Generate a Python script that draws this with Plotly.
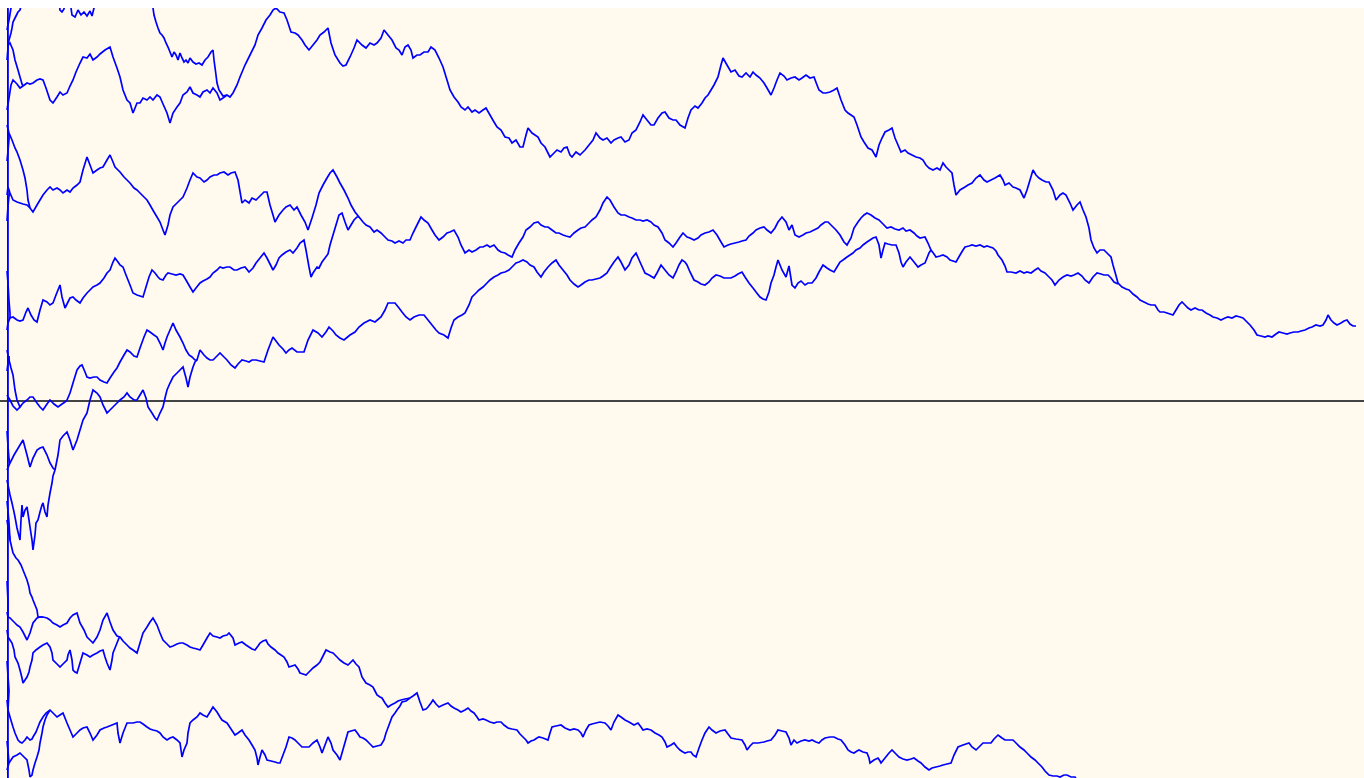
import plotly.graph_objects as go

# Coalescing Brownian paths started on the line t = 0.
# Each path is a list of (time step, level) pairs; branches end where they join another path.

upper_path = [
    (0, 291), (2, 303), (4, 316), (6, 321), (10, 317), (13, 313), (16, 315), (20, 318), (23, 317), (26, 318),
    (30, 321), (33, 322), (36, 321), (39, 313), (43, 301), (46, 298), (50, 304), (53, 309), (56, 306), (60, 308),
    (63, 315), (66, 321), (69, 329), (73, 338), (76, 344), (80, 343), (83, 347), (86, 341), (90, 344), (93, 347),
    (98, 351), (103, 354), (106, 344), (110, 333), (113, 324), (116, 311), (120, 301), (123, 298), (126, 288), (130, 298),
    (133, 298), (136, 303), (140, 301), (143, 304), (146, 301), (150, 306), (153, 304), (156, 297), (160, 288), (163, 278),
    (166, 288), (170, 294), (173, 298), (176, 306), (180, 309), (183, 314), (186, 308), (190, 306), (193, 304), (196, 309),
    (200, 311), (203, 308), (206, 313), (210, 308), (213, 301), (216, 303), (220, 306), (223, 304), (226, 308), (230, 316),
    (233, 324), (238, 336), (243, 346), (248, 356), (251, 366), (255, 373), (259, 381), (263, 386), (266, 391), (269, 393),
    (273, 389), (277, 388), (280, 381), (284, 369), (288, 368), (291, 366), (295, 361), (298, 356), (302, 351), (306, 356),
    (310, 361), (313, 366), (317, 369), (321, 373), (324, 358), (328, 346), (333, 338), (336, 335), (339, 336), (343, 344),
    (347, 353), (350, 361), (355, 356), (359, 353), (363, 358), (367, 356), (370, 358), (374, 363), (377, 371), (381, 366),
    (385, 361), (389, 353), (392, 351), (395, 346), (398, 354), (401, 356), (404, 351), (406, 343), (410, 346), (413, 346),
    (417, 349), (421, 349), (424, 354), (428, 351), (432, 343), (436, 334), (440, 321), (443, 311), (447, 304), (451, 299),
    (454, 294), (458, 291), (461, 294), (465, 289), (468, 291), (472, 288), (476, 291), (479, 293), (483, 286), (487, 279),
    (490, 274), (494, 271), (498, 264), (502, 263), (505, 258), (509, 261), (513, 254), (516, 254), (519, 266), (521, 273),
    (525, 268), (528, 266), (531, 264), (534, 258), (538, 254), (541, 248), (543, 244), (547, 248), (550, 251), (554, 249),
    (557, 253), (560, 254), (563, 246), (565, 244), (569, 249), (573, 246), (578, 251), (582, 256), (586, 261), (589, 268),
    (593, 263), (596, 261), (600, 263), (604, 258), (607, 261), (611, 263), (614, 264), (618, 259), (622, 261), (625, 268),
    (629, 271), (633, 279), (636, 286), (640, 281), (644, 276), (647, 276), (651, 283), (655, 288), (658, 289), (662, 283),
    (666, 281), (669, 281), (673, 276), (678, 273), (681, 283), (684, 291), (688, 295), (691, 293), (695, 298), (698, 303),
    (701, 306), (704, 311), (707, 316), (711, 324), (714, 336), (716, 343), (720, 336), (724, 329), (728, 331), (732, 325),
    (735, 324), (739, 328), (743, 324), (746, 329), (749, 326), (753, 323), (757, 318), (760, 313), (764, 306), (767, 313),
    (770, 321), (773, 328), (777, 325), (780, 321), (784, 323), (788, 324), (792, 321), (795, 323), (799, 326), (803, 323),
    (807, 324), (810, 316), (812, 311), (816, 308), (819, 308), (823, 309), (827, 311), (830, 313), (834, 301), (838, 291),
    (841, 288), (844, 286), (847, 284), (850, 276), (854, 264), (857, 259), (861, 253), (865, 251), (869, 244), (872, 256),
    (875, 263), (878, 269), (882, 271), (885, 273), (888, 263), (891, 256), (894, 249), (898, 251), (901, 248), (905, 246),
    (909, 244), (913, 243), (916, 241), (919, 236), (922, 233), (926, 231), (930, 233), (933, 231), (936, 238), (939, 234),
    (942, 231), (945, 228), (947, 216), (949, 206), (953, 211), (958, 214), (961, 216), (965, 218), (969, 223), (973, 226),
    (977, 221), (980, 219), (984, 221), (988, 223), (993, 226), (996, 221), (998, 216), (1002, 218), (1006, 214), (1009, 213),
    (1013, 211), (1017, 203), (1020, 211), (1023, 221), (1026, 231), (1029, 226), (1032, 223), (1035, 221), (1039, 219), (1042, 219),
    (1046, 211), (1049, 201), (1053, 206), (1056, 208), (1059, 206), (1063, 198), (1066, 191), (1070, 196), (1073, 199), (1076, 191),
    (1079, 184), (1082, 173), (1084, 161), (1087, 153), (1090, 148), (1093, 151), (1097, 151), (1100, 148), (1104, 144), (1106, 136),
    (1108, 129), (1111, 118), (1115, 114), (1119, 112), (1122, 111), (1126, 107), (1130, 104), (1133, 101), (1137, 99), (1141, 97),
    (1144, 96), (1148, 96), (1151, 91), (1153, 89), (1157, 89), (1160, 88), (1163, 87), (1166, 86), (1169, 91), (1172, 96),
    (1175, 99), (1178, 96), (1181, 93), (1184, 91), (1188, 93), (1192, 91), (1195, 91), (1199, 88), (1203, 86), (1206, 84),
    (1210, 83), (1214, 81), (1218, 83), (1221, 84), (1225, 83), (1229, 85), (1233, 84), (1236, 83), (1240, 79), (1243, 76),
    (1247, 71), (1250, 66), (1254, 65), (1258, 64), (1261, 65), (1265, 64), (1269, 67), (1272, 69), (1276, 68), (1280, 67),
    (1283, 68), (1287, 69), (1291, 69), (1294, 70), (1298, 71), (1302, 73), (1305, 74), (1309, 76), (1313, 75), (1316, 76),
    (1319, 81), (1321, 86), (1324, 81), (1327, 78), (1330, 76), (1334, 78), (1337, 80), (1340, 81), (1343, 77), (1346, 75),
    (1349, 75),
]

middle_path = [
    (0, 206), (1, 214), (3, 208), (6, 201), (10, 199), (13, 198), (16, 197), (20, 196), (23, 193), (26, 189),
    (30, 196), (33, 201), (36, 206), (40, 211), (43, 214), (46, 211), (50, 213), (53, 211), (56, 208), (60, 211),
    (63, 209), (66, 213), (70, 216), (73, 219), (76, 231), (80, 244), (83, 236), (86, 228), (90, 231), (93, 233),
    (96, 234), (100, 241), (103, 246), (106, 239), (108, 234), (113, 229), (117, 224), (120, 221), (123, 218), (127, 213),
    (130, 211), (133, 208), (137, 204), (140, 201), (143, 196), (147, 189), (150, 184), (153, 179), (156, 171), (158, 166),
    (161, 176), (163, 186), (166, 194), (170, 198), (173, 201), (176, 204), (180, 213), (183, 221), (186, 228), (190, 224),
    (193, 223), (197, 219), (200, 221), (203, 224), (207, 226), (210, 226), (213, 228), (217, 229), (221, 226), (224, 228),
    (228, 229), (231, 221), (235, 198), (238, 201), (242, 198), (245, 203), (249, 201), (253, 205), (257, 209), (260, 209),
    (263, 196), (266, 186), (268, 179), (272, 186), (276, 191), (279, 194), (283, 196), (287, 191), (290, 194), (294, 186),
    (298, 179), (301, 171), (305, 183), (309, 196), (312, 208), (316, 216), (320, 223), (323, 228), (326, 231), (330, 224),
    (333, 218), (337, 211), (341, 203), (344, 196), (348, 189), (352, 184), (356, 179), (359, 176), (363, 174), (367, 169),
    (370, 171), (374, 168), (378, 164), (381, 161), (385, 160), (388, 158), (392, 160), (396, 158), (399, 161), (403, 161),
    (406, 168), (410, 176), (414, 184), (417, 181), (421, 178), (425, 171), (428, 166), (432, 161), (436, 164), (440, 168),
    (443, 169), (447, 171), (451, 164), (454, 156), (458, 148), (462, 151), (465, 149), (469, 151), (473, 154), (476, 154),
    (480, 156), (483, 154), (487, 156), (491, 151), (494, 149), (498, 148), (501, 146), (505, 144), (508, 151), (512, 158),
    (516, 164), (519, 171), (523, 174), (527, 178), (531, 179), (534, 176), (538, 174), (541, 174), (545, 171), (549, 168),
    (552, 168), (556, 166), (559, 165), (563, 164), (567, 168), (571, 171), (574, 173), (578, 174), (582, 178), (585, 181),
    (589, 184), (593, 191), (596, 198), (600, 204), (603, 201), (607, 194), (611, 188), (614, 186), (618, 186), (622, 184),
    (625, 183), (629, 181), (633, 181), (636, 180), (640, 181), (644, 179), (647, 176), (651, 174), (655, 168), (658, 161),
    (662, 158), (666, 154), (669, 158), (673, 164), (676, 168), (680, 164), (683, 163), (687, 161), (691, 163), (694, 166),
    (698, 168), (702, 169), (706, 171), (710, 166), (714, 159), (717, 154), (721, 156), (724, 157), (728, 158), (732, 159),
    (735, 160), (739, 161), (742, 165), (746, 168), (749, 171), (753, 173), (757, 174), (760, 171), (764, 168), (768, 173),
    (771, 179), (775, 184), (779, 179), (782, 171), (785, 176), (788, 166), (792, 164), (796, 166), (799, 168), (803, 169),
    (807, 171), (811, 173), (814, 176), (818, 179), (821, 179), (825, 175), (829, 171), (833, 166), (837, 159), (840, 156),
    (844, 163), (847, 173), (851, 179), (854, 183), (857, 186), (860, 188), (864, 186), (868, 183), (872, 181), (876, 177),
    (880, 173), (884, 174), (888, 172), (892, 171), (896, 173), (899, 170), (903, 171), (907, 168), (910, 165), (913, 163),
    (918, 164), (921, 158), (924, 151), (927, 147), (929, 144), (933, 145), (936, 146), (940, 144), (943, 141), (946, 140),
    (949, 139), (953, 146), (956, 151), (958, 154), (962, 155), (965, 156), (969, 155), (973, 156), (977, 154), (980, 155),
    (983, 154), (986, 153), (989, 150), (991, 146), (995, 141), (998, 135), (1000, 129), (1004, 129), (1009, 128), (1013, 130),
    (1017, 128), (1020, 129), (1024, 128), (1028, 131), (1031, 133), (1034, 130), (1038, 128), (1041, 125), (1045, 121), (1048, 116),
    (1052, 121), (1056, 124), (1060, 126), (1064, 125), (1067, 126), (1071, 128), (1075, 125), (1078, 121), (1082, 118), (1086, 124),
    (1090, 128), (1094, 127), (1097, 126), (1101, 126), (1104, 123), (1107, 119), (1111, 117),
]

lower_middle_path = [
    (0, 51), (2, 41), (4, 33), (6, 26), (8, 11), (10, 1), (13, -6), (16, -2), (20, 1), (23, 4),
    (26, 4), (30, -2), (33, -6), (36, -9), (40, -3), (43, 1), (47, -3), (51, -6), (55, -3), (58, -1),
    (60, 1), (63, 8), (66, 18), (70, 31), (73, 35), (75, 36), (78, 29), (80, 24), (83, 23), (87, 24),
    (90, 24), (93, 21), (97, 19), (100, 18), (103, 23), (107, 29), (110, 33), (113, 39), (117, 46), (120, 51),
    (123, 49), (127, 45), (130, 44), (133, 53), (137, 64), (140, 71), (143, 69), (147, 66), (150, 64), (153, 58),
    (156, 51), (158, 58), (160, 64), (163, 71), (166, 78), (169, 71), (173, 64), (176, 58), (179, 51), (182, 46),
    (185, 44), (188, 41), (190, 41), (193, 51), (197, 46), (200, 43), (203, 41), (206, 41), (210, 45), (213, 48),
    (217, 44), (220, 41), (224, 36), (228, 33), (231, 37), (235, 41), (239, 40), (242, 39), (245, 41), (249, 41),
    (253, 40), (257, 39), (261, 51), (266, 64), (269, 60), (272, 56), (276, 52), (279, 48), (282, 51), (285, 53),
    (290, 49), (293, 49), (297, 49), (301, 61), (306, 71), (311, 68), (315, 64), (319, 69), (322, 74), (326, 70),
    (329, 66), (333, 63), (337, 61), (343, 66), (348, 69), (352, 74), (357, 78), (363, 81), (368, 79), (374, 84),
    (378, 91), (381, 98), (385, 98), (388, 98), (392, 93), (395, 89), (399, 84), (403, 81), (407, 84), (412, 86),
    (417, 86), (421, 81), (425, 76), (429, 71), (432, 68), (437, 66), (441, 63), (444, 73), (447, 81), (451, 84),
    (455, 86), (458, 88), (462, 96), (465, 104), (469, 108), (472, 111), (476, 114), (480, 118), (483, 121), (487, 124),
    (491, 126), (494, 128), (498, 129), (502, 131), (505, 134), (509, 138), (512, 139), (516, 141), (520, 139), (523, 136),
    (527, 134), (530, 129), (534, 124), (537, 129), (541, 134), (545, 138), (549, 141), (552, 136), (556, 131), (560, 126),
    (563, 121), (567, 117), (571, 114), (574, 116), (578, 119), (582, 121), (585, 121), (589, 122), (593, 123), (596, 125),
    (600, 128), (603, 133), (607, 139), (611, 144), (614, 139), (618, 131), (622, 136), (625, 143), (629, 148), (633, 139),
    (638, 128), (642, 126), (647, 123), (650, 128), (654, 136), (658, 131), (662, 126), (666, 123), (669, 129), (672, 136),
    (675, 141), (678, 139), (680, 136), (683, 129), (687, 121), (691, 119), (694, 117), (698, 116), (702, 119), (705, 123),
    (709, 126), (713, 125), (717, 123), (720, 123), (724, 123), (728, 125), (731, 127), (735, 129), (738, 124), (742, 118),
    (746, 113), (749, 109), (753, 104), (756, 102), (759, 101), (762, 109), (764, 118), (767, 126), (769, 134), (771, 141),
    (775, 131), (779, 124), (782, 135), (785, 116), (788, 113), (791, 118), (794, 120), (798, 116), (801, 118), (805, 118),
    (809, 123), (812, 129), (816, 136), (820, 133), (823, 131), (827, 129), (830, 134), (833, 139), (836, 141), (840, 144),
    (843, 146), (846, 148), (849, 151), (853, 153), (856, 156), (860, 159), (863, 161), (866, 163), (869, 164), (872, 156),
    (874, 143), (876, 151), (878, 158), (881, 157), (885, 156), (889, 156), (892, 148), (894, 139), (896, 134), (899, 139),
    (903, 144), (907, 139), (911, 134), (914, 136), (918, 138), (920, 143), (922, 148), (924, 151),
]

rising_branch = [
    (0, 71), (1, 78), (3, 83), (6, 84), (10, 81), (13, 80), (16, 81), (19, 89), (21, 93), (24, 86),
    (27, 81), (30, 79), (33, 91), (36, 101), (40, 99), (43, 96), (46, 98), (49, 106), (53, 116), (55, 104),
    (58, 93), (61, 99), (63, 103), (66, 104), (69, 101), (73, 98), (76, 103), (80, 108), (83, 111), (86, 114),
    (90, 116), (93, 118), (97, 123), (100, 128), (103, 131), (106, 139), (108, 143), (111, 139), (113, 136), (116, 134),
    (119, 126), (123, 116), (126, 108), (130, 106), (133, 105), (136, 104), (139, 114), (142, 124), (145, 131), (148, 128),
    (151, 124), (153, 122), (156, 121), (159, 126), (161, 128), (165, 127), (169, 126), (173, 127), (176, 126), (179, 121),
    (183, 114), (186, 109), (189, 113), (193, 118), (196, 120), (200, 122), (203, 124), (206, 128), (210, 131), (213, 134),
    (216, 133), (220, 134), (223, 134), (227, 131), (230, 131), (234, 133), (238, 134), (242, 129), (246, 133), (249, 138),
    (253, 143), (257, 148), (260, 143), (263, 137), (266, 131), (269, 136), (272, 143), (275, 146), (279, 149), (283, 151),
    (286, 148), (290, 153), (293, 158), (297, 161), (299, 151), (302, 134), (304, 124), (306, 128), (310, 134), (312, 133),
    (315, 139), (318, 143), (321, 147), (323, 156), (326, 166), (329, 176), (332, 186), (335, 188), (338, 179), (341, 171),
    (344, 176), (347, 181), (350, 184), (352, 184),
]

top_entry = [
    (145, 399), (146, 393), (147, 386), (149, 379), (151, 373), (153, 368), (155, 366), (157, 363), (159, 358), (161, 354),
    (163, 349), (165, 344), (167, 349), (169, 346), (171, 341), (173, 348), (175, 343), (177, 339), (179, 341), (181, 338),
    (183, 343), (186, 339), (189, 337), (192, 338), (195, 336), (198, 341), (201, 344), (204, 349), (206, 351), (207, 341),
    (209, 326), (210, 318), (212, 311), (214, 308), (216, 305), (220, 306),
]

top_exit_a = [(0, 341), (1, 353), (2, 361), (4, 368), (5, 373), (6, 379), (8, 383), (10, 387), (11, 389), (13, 391), (14, 395), (15, 399)]
top_exit_b = [(0, 371), (2, 381), (3, 387), (4, 393), (5, 399)]
top_dip_a = [(63, 399), (64, 393), (65, 386), (68, 384), (71, 391), (74, 386), (77, 389), (80, 385), (83, 390), (85, 385), (87, 393), (88, 399)]
top_dip_b = [(52, 399), (53, 391), (55, 389), (57, 392), (58, 399)]

upper_feeder = [(1, 356), (3, 358), (6, 351), (8, 341), (11, 331), (13, 324), (15, 317), (16, 315)]
middle_feeder = [(0, 276), (2, 268), (5, 261), (8, 253), (10, 249), (13, 241), (16, 231), (18, 223), (20, 211), (21, 201), (23, 193)]
zero_feeder = [(0, 6), (3, 1), (6, -5), (10, -9), (13, -6)]

dip_branch = [
    (0, -69), (3, -62), (7, -54), (10, -49), (13, -44), (16, -39), (20, -54), (23, -66), (26, -57), (30, -49),
    (33, -47), (36, -46), (40, -54), (43, -62), (46, -67), (48, -69), (51, -54), (53, -39), (56, -35), (60, -31),
    (63, -39), (66, -49), (70, -39), (73, -29), (76, -19), (80, -12), (83, 1), (86, 11), (90, 8), (93, 4),
    (96, -4), (100, -12), (103, -9), (106, -6), (110, -2), (113, 1), (117, 4), (120, 8), (123, 4), (127, 1),
    (130, 1), (133, 6), (136, 11), (139, 3), (141, -6), (145, -12), (148, -17), (150, -19), (153, -12), (156, -6),
    (158, 3), (160, 11), (163, 18), (166, 24), (170, 28), (173, 31), (176, 34), (179, 23), (181, 14), (183, 24),
    (186, 34), (188, 39), (190, 41),
]

jagged_branch = [
    (0, -79), (2, -89), (3, -94), (5, -102), (7, -111), (8, -116), (10, -127), (11, -131), (13, -139), (14, -119),
    (15, -104), (16, -116), (18, -109), (20, -106), (22, -119), (23, -126), (25, -139), (26, -149), (28, -134), (29, -122),
    (31, -119), (33, -111), (35, -104), (36, -102), (38, -111), (40, -116), (41, -104), (43, -92), (44, -87), (45, -82),
    (46, -75), (48, -69),
]

falling_branch = [
    (0, -119), (1, -126), (3, -139), (6, -152), (9, -157), (11, -159), (14, -164), (16, -169), (18, -174), (20, -179),
    (22, -186), (23, -192), (25, -196), (26, -199), (28, -204), (30, -209), (31, -216), (34, -216), (36, -216),
]

lower_path = [
    (0, -211), (1, -216), (3, -217), (5, -219), (8, -222), (10, -224), (13, -226), (16, -231), (20, -239), (23, -232),
    (26, -222), (30, -217), (33, -216), (36, -216), (40, -217), (43, -219), (46, -222), (50, -224), (53, -226), (56, -224),
    (60, -222), (63, -217), (66, -214), (70, -212), (73, -222), (77, -229), (80, -236), (83, -239), (86, -242), (90, -236),
    (93, -229), (96, -219), (100, -212), (103, -221), (106, -229), (110, -235), (113, -236), (116, -240), (120, -244), (123, -247),
    (126, -249), (130, -252), (133, -242), (136, -232), (140, -226), (143, -221), (146, -217), (150, -224), (153, -232), (156, -239),
    (160, -243), (163, -246), (166, -245), (170, -243), (173, -242), (176, -242), (180, -244), (183, -246), (186, -247), (190, -248),
    (193, -249), (196, -244), (200, -237), (203, -232), (206, -235), (210, -236), (213, -237), (216, -235), (220, -234), (222, -232),
    (226, -237), (228, -244), (232, -242), (235, -241), (239, -244), (242, -246), (245, -248), (248, -249), (251, -245), (253, -242),
    (256, -240), (259, -239), (261, -243), (264, -246), (268, -249), (271, -252), (274, -254), (277, -256), (280, -261), (282, -266),
    (285, -265), (288, -264), (291, -268), (293, -272), (296, -273), (299, -274), (303, -270), (306, -267), (310, -264), (313, -261),
    (316, -255), (319, -249), (323, -251), (326, -252), (330, -256), (333, -259), (337, -262), (341, -264), (344, -261), (346, -259),
    (349, -263), (352, -266), (355, -276), (357, -279), (359, -282), (363, -284), (366, -286), (368, -290), (370, -294), (373, -296),
    (375, -297), (378, -302), (381, -306), (384, -304), (388, -302), (391, -300), (394, -299), (398, -298), (403, -297), (406, -295),
    (410, -292), (413, -301), (416, -309), (419, -308), (421, -306), (424, -302), (426, -299), (429, -303), (432, -306), (436, -304),
    (441, -302), (444, -305), (447, -307), (451, -309), (454, -311), (458, -309), (461, -307), (464, -310), (467, -312), (470, -316),
    (472, -319), (476, -318), (479, -319), (483, -321), (487, -322), (490, -321), (494, -321), (497, -324), (501, -327), (505, -328),
    (510, -329), (513, -333), (516, -336), (519, -339), (521, -342), (524, -340), (527, -339), (530, -337), (532, -336), (536, -337),
    (541, -339), (543, -332), (545, -326), (549, -325), (554, -324), (558, -327), (563, -329), (567, -328), (571, -329), (574, -332),
    (576, -336), (579, -329), (582, -324), (585, -323), (589, -322), (593, -321), (598, -322), (601, -325), (604, -329), (607, -321),
    (611, -314), (614, -316), (618, -319), (622, -321), (627, -324), (631, -322), (634, -326), (636, -329), (640, -328), (644, -329),
    (648, -332), (652, -334), (655, -336), (658, -341), (660, -346), (664, -344), (667, -342), (670, -346), (673, -349), (676, -351),
    (678, -352), (681, -351), (684, -351), (686, -354), (689, -356), (692, -347), (695, -339), (698, -332), (702, -326), (705, -329),
    (709, -332), (713, -330), (718, -329), (721, -333), (724, -337), (729, -338), (735, -339), (738, -344), (740, -349), (743, -345),
    (746, -342), (751, -342), (757, -341), (760, -340), (764, -339), (768, -334), (771, -329), (775, -330), (779, -331), (782, -337),
    (784, -344), (787, -339), (790, -342), (794, -340), (798, -339), (802, -340), (805, -339), (809, -341), (812, -342), (815, -339),
    (818, -337), (823, -336), (827, -336), (831, -338), (834, -339), (838, -344), (841, -349), (844, -351), (847, -352), (850, -350),
    (852, -349), (856, -351), (860, -352), (862, -357), (863, -362), (867, -359), (871, -357), (873, -360), (874, -362), (878, -357),
    (882, -352), (885, -349), (889, -353), (892, -356), (896, -358), (900, -359), (904, -358), (907, -357), (911, -360), (914, -362),
    (918, -366), (922, -369), (925, -367), (929, -366), (933, -365), (936, -364), (940, -363), (944, -362), (947, -354), (951, -346),
    (956, -344), (962, -342), (965, -346), (969, -349), (973, -345), (976, -342), (980, -342), (984, -342), (987, -338), (991, -334),
    (995, -337), (998, -339), (1002, -339), (1006, -339), (1009, -342), (1013, -346), (1017, -349), (1020, -352), (1024, -356), (1028, -359),
    (1031, -362), (1035, -366), (1038, -370), (1042, -374), (1046, -375), (1050, -375), (1053, -376), (1057, -374), (1060, -374), (1064, -376),
    (1068, -376), (1071, -381), (1073, -389),
]

second_lower_branch = [
    (0, -229), (1, -236), (3, -239), (5, -242), (7, -249), (8, -256), (11, -262), (13, -269), (15, -277), (16, -282),
    (18, -279), (20, -276), (22, -271), (23, -266), (25, -259), (26, -252), (29, -249), (33, -246), (36, -244), (40, -242),
    (43, -246), (45, -252), (46, -259), (50, -263), (53, -266), (56, -263), (60, -259), (61, -254), (63, -249), (65, -259),
    (66, -269), (68, -271), (70, -272), (73, -262), (76, -252), (80, -254), (83, -256), (86, -254), (90, -252), (93, -250),
    (96, -249), (98, -256), (100, -262), (103, -269), (105, -259), (106, -252), (108, -247), (110, -242), (112, -237), (113, -236),
]

bottom_branch = [
    (0, -299), (1, -309), (3, -316), (6, -326), (8, -332), (11, -339), (13, -341), (15, -342), (18, -339), (20, -336),
    (22, -338), (23, -339), (25, -338), (26, -336), (29, -331), (31, -326), (33, -321), (36, -316), (39, -312), (43, -309),
    (46, -312), (50, -316), (53, -314), (56, -312), (58, -317), (60, -322), (63, -329), (66, -336), (70, -332), (73, -329),
    (76, -327), (80, -326), (83, -332), (86, -339), (90, -334), (93, -329), (97, -327), (100, -326), (105, -324), (110, -322),
    (111, -332), (113, -342), (116, -332), (120, -322), (123, -322), (126, -322), (130, -321), (133, -321), (136, -323), (140, -326),
    (143, -328), (146, -329), (150, -330), (153, -332), (156, -336), (160, -339), (163, -337), (166, -336), (170, -339), (173, -342),
    (175, -356), (177, -349), (180, -342), (181, -332), (183, -322), (186, -319), (190, -316), (193, -312), (196, -314), (200, -316),
    (203, -311), (206, -306), (210, -311), (213, -316), (215, -319), (220, -322), (224, -328), (228, -334), (231, -332), (235, -329),
    (238, -334), (242, -339), (245, -344), (248, -349), (250, -357), (251, -364), (253, -356), (255, -349), (258, -354), (260, -359),
    (264, -360), (268, -361), (271, -362), (273, -362), (276, -354), (279, -346), (282, -336), (285, -337), (288, -339), (291, -342),
    (295, -346), (298, -346), (302, -346), (306, -342), (310, -339), (313, -346), (315, -352), (318, -344), (321, -336), (324, -342),
    (326, -349), (330, -354), (333, -359), (337, -345), (341, -331), (344, -330), (348, -329), (351, -333), (353, -336), (356, -337),
    (359, -339), (363, -343), (366, -346), (370, -345), (374, -344), (377, -339), (379, -332), (382, -324), (385, -316), (388, -312),
    (390, -309), (393, -305), (395, -301), (399, -300), (403, -297),
]

corner_branch = [
    (0, -369), (2, -362), (6, -356), (10, -354), (13, -352), (16, -355), (20, -359), (22, -369), (23, -376), (25, -374),
    (26, -369), (28, -362), (30, -356), (32, -349), (33, -342), (35, -332), (36, -326), (38, -319), (40, -314), (43, -309),
]

# very short paths that join a neighbour within the first few steps
short_starts = [
    [(0, 240), (1, 250), (2, 262), (2, 268)],
    [(0, 180), (1, 195), (2, 205), (3, 208)],
    [(0, 130), (1, 118), (2, 100), (3, 88), (3, 83)],
    [(0, 30), (1, 38), (2, 45), (2, 41)],
    [(0, -30), (1, -45), (2, -58), (3, -62)],
    [(0, -100), (1, -110), (2, -122), (3, -139)],
    [(0, -180), (1, -200), (1, -216)],
    [(0, -260), (1, -275), (2, -290), (1, -309)],
    [(0, -340), (1, -350), (2, -362)],
]

# starting points packed densely along t = 0
start_column = [(1, 393), (1, -377)]

paths = [
    upper_path, middle_path, lower_middle_path, rising_branch, top_entry,
    top_exit_a, top_exit_b, top_dip_a, top_dip_b, upper_feeder, middle_feeder, zero_feeder,
    dip_branch, jagged_branch, falling_branch, lower_path, second_lower_branch,
    bottom_branch, corner_branch, start_column,
] + short_starts

fig = go.Figure()
for p in paths:
    t, w = zip(*p)
    fig.add_trace(go.Scatter(
        x=list(t), y=list(w), mode="lines",
        line=dict(color="#0000ff", width=1.7, simplify=False),
        hoverinfo="skip", showlegend=False,
    ))

fig.update_layout(
    width=1364, height=778,
    margin=dict(l=0, r=0, t=8, b=0),
    paper_bgcolor="#ffffff",
    plot_bgcolor="#fff9ee",
)
fig.update_xaxes(
    range=[-7, 1357], showgrid=False, showticklabels=False, ticks="",
    zeroline=True, zerolinecolor="#000000", zerolinewidth=1,
)
fig.update_yaxes(
    range=[-377, 393], showgrid=False, showticklabels=False, ticks="",
    zeroline=True, zerolinecolor="#444444", zerolinewidth=1.5,
)

fig.write_html("out.html", config={"displayModeBar": False})
